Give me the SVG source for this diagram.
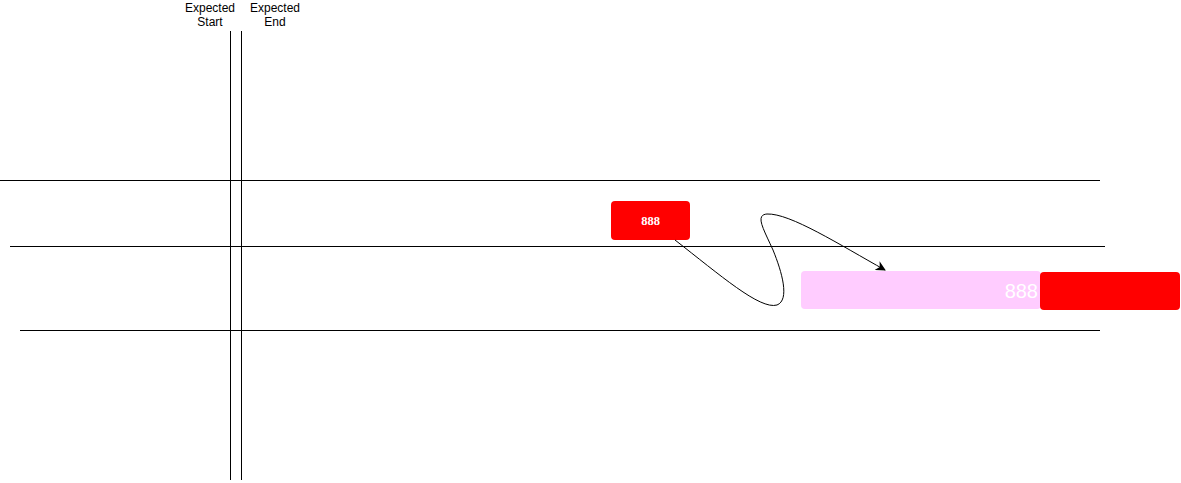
<svg xmlns="http://www.w3.org/2000/svg" width="1181" height="483" viewBox="0 0 1181 483">
<defs>
<style>
.ln{stroke:#000;stroke-width:1;fill:none}
.lbl{font-family:"Liberation Sans",Arial,sans-serif;font-size:12px;fill:#000;text-anchor:middle}
</style>
<marker id="arr" viewBox="0 0 10 10" refX="9" refY="5" markerWidth="10" markerHeight="10" orient="auto" markerUnits="userSpaceOnUse">
<path d="M0,0 L10,5 L0,10 L3,5 Z" fill="#000"/>
</marker>
</defs>
<rect width="1181" height="483" fill="#fff"/>
<g id="grid">
<line class="ln" x1="0" y1="180.5" x2="1100" y2="180.5"/>
<line class="ln" x1="10" y1="246.5" x2="1105" y2="246.5"/>
<line class="ln" x1="20" y1="330.5" x2="1100" y2="330.5"/>
<line class="ln" x1="230.5" y1="31" x2="230.5" y2="480"/>
<line class="ln" x1="241.5" y1="31" x2="241.5" y2="480"/>
</g>
<g id="label-start"><text class="lbl" x="210" y="12">Expected</text><text class="lbl" x="210" y="26">Start</text></g>
<g id="label-end"><text class="lbl" x="275" y="12">Expected</text><text class="lbl" x="275" y="26">End</text></g>
<g id="node-a">
<rect x="611" y="201" width="79" height="39" rx="4" fill="#ff0000"/>
<text x="650.5" y="224.5" font-family="'Liberation Serif',serif" font-size="12.5" font-weight="bold" fill="#fff" text-anchor="middle">888</text>
</g>
<g id="node-b">
<rect x="801" y="271" width="240" height="38" rx="4" fill="#ffccff"/>
<text x="1038" y="298" font-family="'Liberation Sans',Arial,sans-serif" font-size="20" fill="#fff" text-anchor="end">888</text>
</g>
<g id="node-c">
<rect x="1040" y="272" width="140" height="38" rx="4" fill="#ff0000"/>
</g>
<g id="connectors">
<path class="ln" d="M675,240 C720,275 760,310 777,305 C790,300 782,272 773,250 C763,228 755,215 767,214 C790,213 840,245 885,270" marker-end="url(#arr)"/>
</g>
</svg>
